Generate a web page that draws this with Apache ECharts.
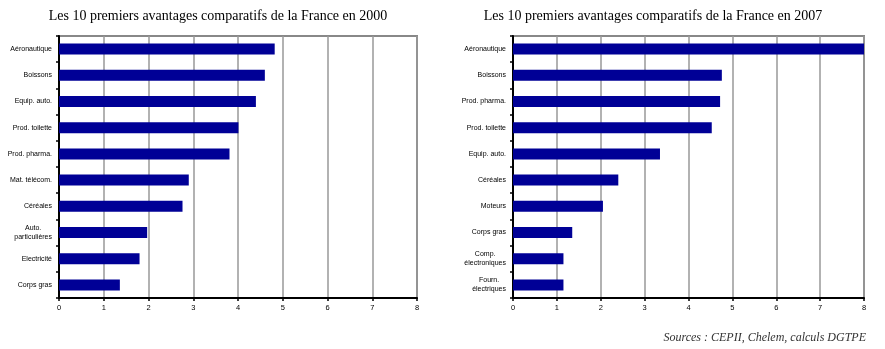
<!DOCTYPE html>
<html><head><meta charset="utf-8">
<script src="https://cdn.jsdelivr.net/npm/echarts@6/dist/echarts.min.js"></script>
<style>html,body{margin:0;padding:0;background:#fff}#c{width:885px;height:349px}</style>
</head><body><div id="c"></div>
<script>
const title2000 = "Les 10 premiers avantages comparatifs de la France en 2000";
const title2007 = "Les 10 premiers avantages comparatifs de la France en 2007";
const sourceText = "Sources : CEPII, Chelem, calculs DGTPE";
const categories2000 = ["Aéronautique","Boissons","Equip. auto.","Prod. toilette","Prod. pharma.","Mat. télécom.","Céréales","Auto.\nparticulières","Electricité","Corps gras"];
const values2000 = [4.82, 4.60, 4.40, 4.01, 3.81, 2.90, 2.76, 1.97, 1.80, 1.36];
const categories2007 = ["Aéronautique","Boissons","Prod. pharma.","Prod. toilette","Equip. auto.","Céréales","Moteurs","Corps gras","Comp.\nélectroniques","Fourn.\nélectriques"];
const values2007 = [8.0, 4.76, 4.72, 4.53, 3.35, 2.40, 2.05, 1.35, 1.15, 1.15];
const xTicks = ["0","1","2","3","4","5","6","7","8"];

const chart = echarts.init(document.getElementById('c'), null, {renderer:'canvas'});
const labelFont = {fontFamily:'Liberation Sans', fontSize:7, color:'#000'};
function catLabelFormatter(v){
  if (v.indexOf('\n') >= 0) return v.split('\n').map(s => '{c|' + s + '}').join('\n');
  return v;
}
function xAxisCfg(gi){
  return {
    gridIndex: gi, type:'value', min:0, max:8, interval:1,
    axisLine:{show:true, lineStyle:{color:'#000', width:2}},
    axisTick:{show:true, length:3, lineStyle:{color:'#000', width:1.5}},
    axisLabel:Object.assign({margin:6, formatter:(v)=>xTicks[v]}, labelFont, {fontSize:7.5}),
    splitLine:{show:true, lineStyle:{color:'#999', width:1.5}}
  };
}
function yAxisCfg(gi, cats){
  return {
    gridIndex: gi, type:'category', data: cats, inverse:true,
    axisLine:{show:true, lineStyle:{color:'#000', width:2}},
    axisTick:{show:true, length:3, lineStyle:{color:'#000', width:1.5}},
    axisLabel:Object.assign({margin:7, formatter:catLabelFormatter, lineHeight:9,
      rich:{c:{align:'center', fontFamily:'Liberation Sans', fontSize:7, color:'#000', lineHeight:9}}}, labelFont),
    splitLine:{show:false}
  };
}
chart.setOption({
  animation:false,
  backgroundColor:'#fff',
  title:[
    {text:title2000, left:213, top:4, textAlign:'center',
     textStyle:{fontFamily:'Liberation Serif', fontSize:14, fontWeight:'normal', color:'#000'}},
    {text:title2007, left:648, top:4, textAlign:'center',
     textStyle:{fontFamily:'Liberation Serif', fontSize:14, fontWeight:'normal', color:'#000'}},
    {text:sourceText, right:14, top:327,
     textStyle:{fontFamily:'Liberation Serif', fontSize:12, fontStyle:'italic', fontWeight:'normal', color:'#333'}}
  ],
  grid:[
    {left:59, top:36, width:358, height:262, show:true, borderColor:'#888', borderWidth:2, backgroundColor:'#fff'},
    {left:513, top:36, width:351, height:262, show:true, borderColor:'#888', borderWidth:2, backgroundColor:'#fff'}
  ],
  xAxis:[xAxisCfg(0), xAxisCfg(1)],
  yAxis:[yAxisCfg(0, categories2000), yAxisCfg(1, categories2007)],
  series:[
    {type:'bar', xAxisIndex:0, yAxisIndex:0, data:values2000, barWidth:11,
     itemStyle:{color:'#000096'}},
    {type:'bar', xAxisIndex:1, yAxisIndex:1, data:values2007, barWidth:11,
     itemStyle:{color:'#000096'}}
  ]
});
</script></body></html>
